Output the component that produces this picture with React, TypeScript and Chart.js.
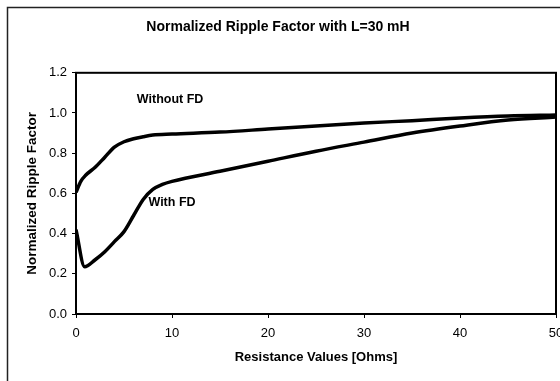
import React, { useEffect, useRef } from "react";
import { Chart, registerables } from "chart.js";

Chart.register(...registerables);

const TITLE = "Normalized Ripple Factor with L=30 mH";
const X_TITLE = "Resistance Values [Ohms]";
const Y_TITLE = "Normalized Ripple Factor";

const withoutFdX = [0, 0.5, 1, 2, 3, 4, 5, 6, 7, 8, 10, 15, 20, 25, 30, 35, 40, 45, 50];
const withoutFdY = [0.605, 0.66, 0.69, 0.73, 0.78, 0.83, 0.857, 0.872, 0.882, 0.89, 0.895, 0.905, 0.92, 0.935, 0.95, 0.962, 0.975, 0.985, 0.99];

const withFdX = [0, 0.9, 2, 3, 4, 5, 6, 7, 8, 9, 10, 15, 20, 25, 30, 35, 40, 45, 50];
const withFdY = [0.42, 0.235, 0.27, 0.31, 0.36, 0.41, 0.49, 0.57, 0.62, 0.645, 0.66, 0.71, 0.76, 0.81, 0.855, 0.9, 0.935, 0.965, 0.98];

const xTicks = [0, 10, 20, 30, 40, 50];
const yTicks = [0, 0.2, 0.4, 0.6, 0.8, 1.0, 1.2];

const seriesLabels = ["Without FD", "With FD"];
const labelPosX = [9.8, 10];
const labelPosY = [1.066, 0.553];

const FONT = "'Liberation Sans', Arial, Helvetica, sans-serif";

export default function App() {
  const ref = useRef<HTMLCanvasElement | null>(null);

  useEffect(() => {
    if (!ref.current) return;

    const framePlugin = {
      id: "frame",
      beforeDraw(chart: any) {
        const { ctx } = chart;
        ctx.save();
        ctx.fillStyle = "#ffffff";
        ctx.fillRect(0, 0, chart.width, chart.height);
        ctx.strokeStyle = "#222";
        ctx.lineWidth = 1.5;
        ctx.beginPath();
        ctx.moveTo(7.5, chart.height);
        ctx.lineTo(7.5, 7.5);
        ctx.lineTo(chart.width, 7.5);
        ctx.stroke();
        ctx.restore();
      },
      afterDatasetsDraw(chart: any) {
        const { ctx, chartArea: a, scales } = chart;
        ctx.save();
        ctx.strokeStyle = "#000";
        ctx.lineWidth = 2;
        ctx.strokeRect(a.left, a.top, a.right - a.left, a.bottom - a.top);
        ctx.fillStyle = "#000";
        ctx.font = `bold 12.5px ${FONT}`;
        ctx.textAlign = "center";
        ctx.textBaseline = "middle";
        seriesLabels.forEach((t, i) => {
          ctx.fillText(t, scales.x.getPixelForValue(labelPosX[i]), scales.y.getPixelForValue(labelPosY[i]));
        });
        ctx.restore();
      },
    };

    const chart = new Chart(ref.current, {
      type: "line",
      data: {
        datasets: [
          {
            label: seriesLabels[0],
            data: withoutFdX.map((x, i) => ({ x, y: withoutFdY[i] })),
            borderColor: "#000",
            borderWidth: 3.5,
            pointRadius: 0,
            cubicInterpolationMode: "monotone",
            fill: false,
          },
          {
            label: seriesLabels[1],
            data: withFdX.map((x, i) => ({ x, y: withFdY[i] })),
            borderColor: "#000",
            borderWidth: 3.5,
            pointRadius: 0,
            cubicInterpolationMode: "monotone",
            fill: false,
          },
        ],
      },
      options: {
        responsive: false,
        animation: false,
        layout: { padding: { left: 0, right: 4, top: 0, bottom: 0 } },
        plugins: {
          legend: { display: false },
          tooltip: { enabled: false },
          title: {
            display: true,
            text: TITLE,
            color: "#000",
            font: { family: FONT, size: 14, weight: "bold" },
            padding: { top: 19, bottom: 37 },
          },
        },
        scales: {
          x: {
            type: "linear",
            min: 0,
            max: 50,
            afterBuildTicks(scale: any) {
              scale.ticks = xTicks.map((v) => ({ value: v }));
            },
            afterFit(scale: any) {
              scale.height = 67;
              scale.paddingLeft = 0;
              scale.paddingRight = 0;
            },
            grid: { display: true, drawOnChartArea: false, tickLength: 4, color: "#000", lineWidth: 1 },
            border: { display: false },
            ticks: {
              color: "#000",
              padding: 8,
              maxRotation: 0,
              font: { family: FONT, size: 13 },
            },
            title: {
              display: true,
              text: X_TITLE,
              color: "#000",
              font: { family: FONT, size: 13, weight: "bold" },
              padding: { top: 0, bottom: 16 },
            },
          },
          y: {
            type: "linear",
            min: 0,
            max: 1.2,
            afterBuildTicks(scale: any) {
              scale.ticks = yTicks.map((v) => ({ value: v }));
            },
            afterFit(scale: any) {
              scale.width = 76;
            },
            grid: { display: true, drawOnChartArea: false, tickLength: 4, color: "#000", lineWidth: 1 },
            border: { display: false },
            ticks: {
              color: "#000",
              padding: 5,
              font: { family: FONT, size: 13 },
              callback: (v: any) => Number(v).toFixed(1),
            },
            title: {
              display: true,
              text: Y_TITLE,
              color: "#000",
              font: { family: FONT, size: 13.5, weight: "bold" },
              padding: { top: 24, bottom: 0 },
            },
          },
        },
      },
      plugins: [framePlugin],
    } as any);

    return () => chart.destroy();
  }, []);

  return (
    <div style={{ position: "fixed", left: 0, top: 0, width: 560, height: 381, background: "#fff" }}>
      <canvas ref={ref} width={560} height={381} style={{ display: "block" }} />
    </div>
  );
}
